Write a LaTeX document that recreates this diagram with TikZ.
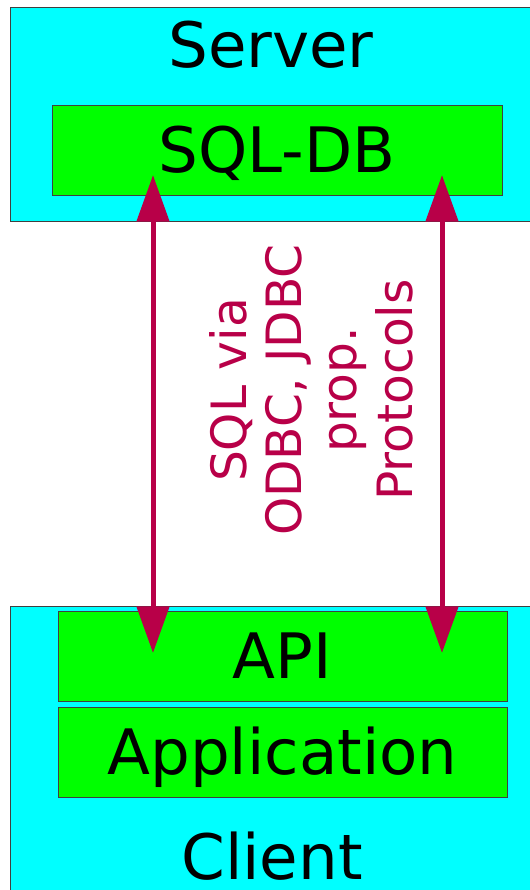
\documentclass[tikz,border=0pt]{standalone}
\usepackage{fontspec}
\setmainfont{DejaVu Sans}
\usetikzlibrary{arrows.meta}
\definecolor{wire}{RGB}{184,0,72}
\definecolor{hostcyan}{RGB}{0,255,255}
\definecolor{layergreen}{RGB}{0,255,0}
\begin{document}
\begin{tikzpicture}[x=0.75pt,y=-0.75pt,
  host/.style={draw=black!75,line width=0.6pt,fill=hostcyan,minimum width=391.5pt,inner sep=0pt},
  layer/.style={draw=black!75,line width=0.6pt,fill=layergreen,minimum height=67.5pt,inner sep=0pt,
    font=\fontsize{47}{56}\selectfont,text height=34.3pt,text depth=0pt},
  big/.style={font=\fontsize{47}{56}\selectfont,anchor=base,inner sep=0pt},
  link/.style={wire,line width=3.75pt,{Triangle[length=35pt,width=24pt]}-{Triangle[length=35pt,width=24pt]}}]
\useasboundingbox (0,0) rectangle (530,890);

% server side
\node[host,minimum height=160.5pt] (server) at (271,114) {};
\node[big] (serverlbl) at (271,67) {Server};
\node[layer,minimum width=337.5pt] (db) at (277,150) {SQL-DB};

% client side
\node[host,minimum height=214.5pt] (client) at (271,749) {};
\node[layer,minimum width=336.75pt] (api) at (282.5,656) {API};
\node[layer,minimum width=336.75pt] (app) at (282.5,752) {Application};
\node[big] (clientlbl) at (272,879) {Client};

% connections
\coordinate (dbL) at (153,175);
\coordinate (dbR) at (442,175);
\coordinate (apiL) at (153,653);
\coordinate (apiR) at (442,653);
\draw[link] (apiL) -- (dbL);
\draw[link] (apiR) -- (dbR);
\node[rotate=90,align=center,text=wire,font=\fontsize{36.5}{41.5}\selectfont] (proto) at (311,390)
  {SQL via\\ODBC, JDBC\\prop.\\Protocols};
\end{tikzpicture}
\end{document}
